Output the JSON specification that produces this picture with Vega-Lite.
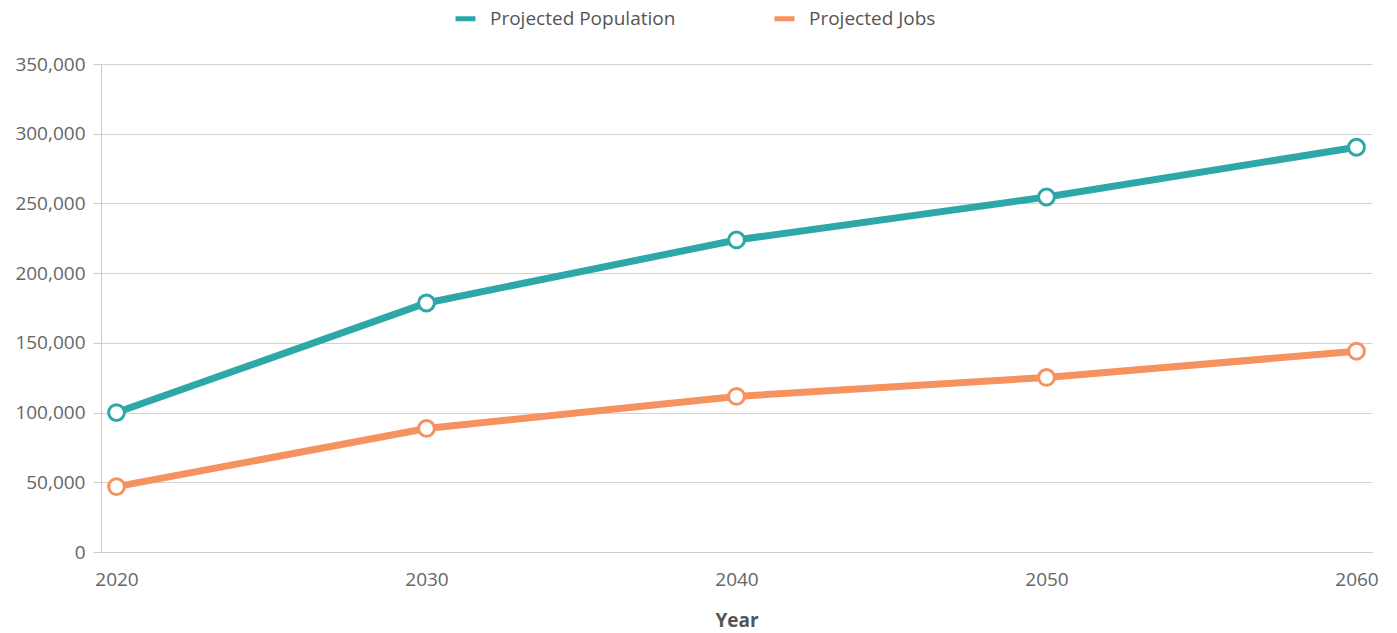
{
  "$schema": "https://vega.github.io/schema/vega-lite/v6.json",
  "width": 1271,
  "height": 488,
  "autosize": "none",
  "padding": {"left": 101, "top": 64, "right": 26, "bottom": 81},
  "background": "white",
  "config": {
    "font": "Open Sans",
    "view": {"stroke": null}
  },
  "data": {
    "values": [
      {"year": 2020, "series": "Projected Population", "value": 100000},
      {"year": 2030, "series": "Projected Population", "value": 178600},
      {"year": 2040, "series": "Projected Population", "value": 223800},
      {"year": 2050, "series": "Projected Population", "value": 254600},
      {"year": 2060, "series": "Projected Population", "value": 290300},
      {"year": 2020, "series": "Projected Jobs", "value": 46900},
      {"year": 2030, "series": "Projected Jobs", "value": 88600},
      {"year": 2040, "series": "Projected Jobs", "value": 111600},
      {"year": 2050, "series": "Projected Jobs", "value": 125200},
      {"year": 2060, "series": "Projected Jobs", "value": 144000}
    ]
  },
  "encoding": {
    "x": {
      "field": "year",
      "type": "quantitative",
      "title": "Year",
      "scale": {"domain": [2019.5, 2060.5], "nice": false, "zero": false},
      "axis": {
        "values": [2020, 2030, 2040, 2050, 2060],
        "format": "d",
        "grid": false,
        "ticks": false,
        "domainColor": "#cccccc",
        "labelFontSize": 19,
        "labelColor": "#666666",
        "labelPadding": 18,
        "titleFontSize": 19,
        "titleFontWeight": "bold",
        "titleColor": "#555555",
        "titlePadding": 22
      }
    },
    "y": {
      "field": "value",
      "type": "quantitative",
      "title": null,
      "scale": {"domain": [0, 350000], "nice": false},
      "axis": {
        "values": [0, 50000, 100000, 150000, 200000, 250000, 300000, 350000],
        "format": ",d",
        "gridColor": "#d4d4d4",
        "domainColor": "#cccccc",
        "tickColor": "#cccccc",
        "tickSize": 8,
        "labelFontSize": 19,
        "labelColor": "#666666",
        "labelPadding": 8
      }
    }
  },
  "layer": [
    {
      "mark": {"type": "line", "strokeWidth": 7},
      "encoding": {
        "color": {
          "field": "series",
          "type": "nominal",
          "scale": {"domain": ["Projected Population", "Projected Jobs"], "range": ["#2ea7a9", "#f6925f"]},
          "legend": {
            "title": null,
            "orient": "none",
            "direction": "horizontal",
            "legendX": 352,
            "legendY": -58,
            "symbolType": "stroke",
            "symbolSize": 400,
            "symbolStrokeWidth": 5,
            "labelFontSize": 19,
            "labelColor": "#555555",
            "labelOffset": 12,
            "labelLimit": 400,
            "columnPadding": 88
          }
        }
      }
    },
    {
      "mark": {"type": "point", "shape": "circle", "filled": false, "fill": "white", "fillOpacity": 1, "opacity": 1, "size": 250, "strokeWidth": 3},
      "encoding": {
        "stroke": {
          "field": "series",
          "type": "nominal",
          "scale": {"domain": ["Projected Population", "Projected Jobs"], "range": ["#2ea7a9", "#f6925f"]},
          "legend": null
        }
      }
    }
  ]
}
